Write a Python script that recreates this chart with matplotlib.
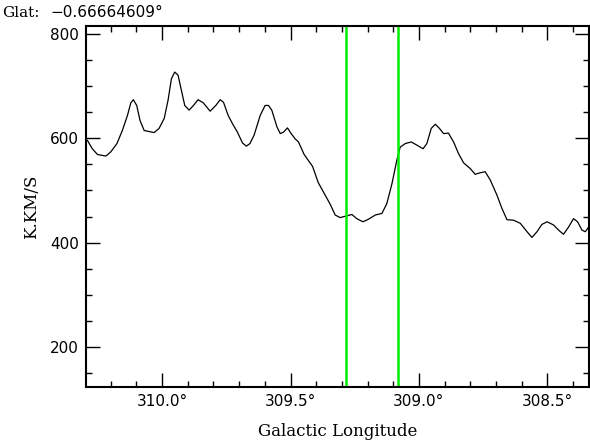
import matplotlib
matplotlib.use("Agg")
import matplotlib.pyplot as plt
import numpy as np
from matplotlib.ticker import MultipleLocator, FuncFormatter

# profile (galactic longitude, K.KM/S)
lon = [310.291, 310.272, 310.252, 310.219, 310.200, 310.176, 310.155, 310.135,
       310.122, 310.112, 310.099, 310.086, 310.070, 310.051, 310.031, 310.012,
       309.992, 309.977, 309.964, 309.951, 309.938, 309.925, 309.912, 309.895,
       309.878, 309.860, 309.840, 309.813, 309.791, 309.774, 309.761, 309.743,
       309.726, 309.707, 309.687, 309.672, 309.658, 309.642, 309.618, 309.599,
       309.586, 309.573, 309.553, 309.540, 309.527, 309.512, 309.499, 309.482,
       309.469, 309.447, 309.414, 309.392, 309.365, 309.346, 309.326, 309.307,
       309.284, 309.261, 309.242, 309.218, 309.196, 309.170, 309.144, 309.125,
       309.105, 309.086, 309.073, 309.053, 309.030, 309.008, 308.984, 308.969,
       308.952, 308.936, 308.920, 308.904, 308.885, 308.865, 308.846, 308.826,
       308.800, 308.781, 308.761, 308.742, 308.722, 308.696, 308.677, 308.657,
       308.631, 308.605, 308.579, 308.560, 308.540, 308.521, 308.501, 308.476,
       308.456, 308.437, 308.417, 308.398, 308.382, 308.365, 308.352, 308.333]
flux = [596, 580, 569, 566, 574, 590, 615, 644,
        668, 674, 663, 634, 615, 613, 611, 619,
        638, 673, 714, 727, 721, 692, 663, 654,
        663, 674, 668, 652, 663, 674, 669, 644,
        628, 612, 591, 585, 590, 606, 644, 663,
        663, 654, 622, 609, 612, 620, 610, 599,
        593, 569, 546, 515, 491, 474, 453, 448,
        451, 454, 446, 440, 445, 453, 456, 475,
        513, 558, 583, 590, 593, 587, 580, 590,
        619, 627, 619, 609, 610, 593, 571, 553,
        542, 531, 534, 536, 520, 491, 466, 444,
        443, 437, 421, 410, 421, 435, 440, 434,
        424, 416, 430, 446, 440, 424, 421, 434]

# vertical markers
markers = [309.283, 309.081]
glat = "\u22120.66664609\u00b0"

fig = plt.figure(figsize=(5.9, 4.43), dpi=100)
ax = fig.add_axes([0.146, 0.126, 0.853, 0.815])

ax.plot(lon, flux, color="black", lw=0.9)
for m in markers:
    ax.axvline(m, color="#00ee00", lw=1.8)

ax.set_xlim(310.296, 308.336)
ax.set_ylim(123, 815)

ax.xaxis.set_major_locator(MultipleLocator(0.5))
ax.xaxis.set_minor_locator(MultipleLocator(0.1))
ax.yaxis.set_major_locator(MultipleLocator(200))
ax.yaxis.set_minor_locator(MultipleLocator(50))
ax.xaxis.set_major_formatter(FuncFormatter(lambda v, p: "%.1f\u00b0" % v))

ax.tick_params(which="both", direction="in", top=True, right=True, width=1.0,
               labelsize=11, colors="black")
ax.tick_params(which="major", length=10, pad=5)
ax.tick_params(which="minor", length=4.5)
for s in ax.spines.values():
    s.set_linewidth(1.5)

ax.set_xlabel("Galactic Longitude", family="DejaVu Serif", fontsize=12, labelpad=10)
ax.set_ylabel("K.KM/S", family="DejaVu Serif", fontsize=12, labelpad=7)

fig.text(0.004, 0.962, "Glat:", family="DejaVu Serif", fontsize=11, va="baseline")
fig.text(0.086, 0.962, glat, family="DejaVu Sans", fontsize=11, va="baseline")

fig.savefig("out.png", dpi=100)
